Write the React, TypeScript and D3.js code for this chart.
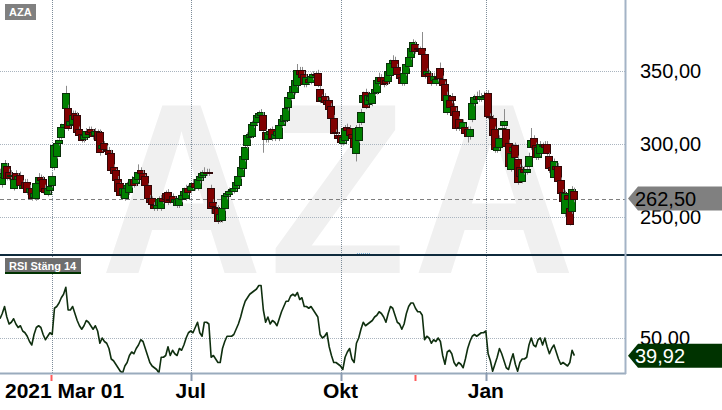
import { useEffect } from "react";
import * as d3 from "d3";

// daily candles, Mar 01 2021 .. Feb 28 2022 (trading-day index)
const opens = [
  276, 272, 277, 285, 281, 278, 270, 280, 276, 279, 270, 274, 274, 267, 270, 263, 263, 273, 277, 276,
  270, 266, 268, 272, 284, 292, 301, 305, 312, 325, 325, 313, 314, 321, 320, 310, 307, 303, 305, 309,
  310, 308, 306, 309, 308, 297, 301, 296, 296, 294, 284, 282, 276, 273, 266, 263, 270, 267, 272, 276,
  273, 276, 282, 280, 278, 272, 263, 263, 258, 256, 258, 256, 263, 266, 267, 262, 264, 260, 258, 258,
  262, 265, 263, 270, 268, 271, 273, 270, 275, 277, 279, 281, 281, 270, 260, 257, 256, 248, 248, 256,
  264, 266, 268, 268, 270, 272, 278, 284, 290, 299, 305, 306, 313, 315, 318, 320, 320, 308, 303, 307,
  310, 304, 306, 304, 313, 316, 317, 325, 332, 336, 336, 341, 351, 351, 348, 341, 345, 343, 346, 348,
  349, 338, 330, 333, 330, 330, 326, 318, 308, 306, 306, 301, 303, 312, 311, 307, 304, 294, 303, 315,
  329, 336, 328, 330, 328, 335, 336, 342, 346, 346, 344, 343, 348, 356, 358, 353, 348, 346, 342, 349,
  354, 360, 364, 369, 366, 365, 366, 362, 348, 349, 347, 344, 342, 346, 352, 345, 341, 322, 330, 333,
  326, 323, 317, 312, 311, 312, 310, 305, 317, 328, 331, 333, 331, 332, 333, 335, 319, 318, 310, 296,
  298, 310, 313, 310, 301, 283, 295, 299, 290, 284, 275, 283, 281, 285, 298, 304, 299, 291, 294, 298,
  300, 300, 292, 284, 277, 285, 285, 275, 267, 252, 265, 256, 254, 268,
];
const closes = [
  280, 277, 287, 277, 277, 279, 276, 276, 278, 272, 272, 270, 267, 270, 263, 266, 273, 277, 275, 268,
  267, 270, 271, 278, 299, 301, 303, 312, 314, 335, 311, 316, 320, 317, 308, 306, 303, 306, 309, 307,
  308, 305, 309, 303, 294, 299, 297, 295, 293, 282, 280, 275, 268, 265, 270, 270, 272, 273, 276, 272,
  277, 281, 280, 276, 272, 263, 260, 259, 256, 258, 262, 263, 261, 262, 260, 261, 260, 262, 262, 263,
  265, 268, 270, 267, 271, 273, 270, 276, 278, 280, 281, 280, 280, 256, 257, 253, 247, 252, 256, 265,
  266, 268, 269, 270, 274, 278, 284, 292, 298, 306, 307, 314, 315, 320, 321, 322, 310, 303, 308, 309,
  304, 307, 309, 313, 317, 320, 325, 332, 336, 340, 344, 351, 348, 346, 341, 346, 343, 347, 348, 347,
  341, 330, 332, 329, 327, 324, 318, 308, 307, 304, 301, 305, 311, 310, 306, 304, 298, 311, 312, 322,
  334, 326, 334, 333, 335, 338, 344, 346, 343, 341, 342, 350, 356, 358, 353, 348, 345, 342, 349, 355,
  360, 366, 370, 364, 365, 364, 362, 347, 350, 347, 342, 347, 345, 345, 345, 341, 330, 334, 325, 330,
  320, 311, 311, 311, 315, 308, 305, 310, 328, 332, 333, 331, 333, 333, 334, 319, 318, 306, 296, 298,
  304, 311, 316, 298, 285, 294, 298, 291, 274, 278, 283, 281, 283, 292, 303, 298, 291, 298, 300, 299,
  298, 294, 284, 282, 288, 283, 275, 266, 261, 266, 262, 245, 269, 262.5,
];
const highs = [
  283, 279, 289, 287, 283, 282, 277, 282, 280, 281, 275, 276, 276, 272, 271, 268, 274, 280, 279, 278,
  272, 272, 274, 280, 300, 303, 305, 314, 318, 340, 327, 318, 323, 323, 322, 312, 309, 308, 311, 312,
  312, 310, 311, 310, 310, 301, 302, 299, 298, 296, 286, 283, 278, 274, 272, 271, 274, 275, 278, 277,
  279, 286, 284, 282, 279, 273, 265, 264, 260, 260, 264, 265, 265, 268, 269, 264, 266, 264, 263, 265,
  267, 270, 272, 272, 273, 276, 275, 278, 281, 282, 284, 283, 283, 272, 262, 259, 258, 254, 258, 267,
  268, 270, 272, 273, 276, 280, 286, 294, 300, 308, 311, 316, 317, 322, 323, 324, 322, 310, 310, 311,
  312, 309, 311, 315, 319, 322, 327, 334, 338, 342, 346, 355, 353, 353, 350, 348, 347, 349, 350, 350,
  351, 340, 334, 335, 332, 332, 328, 320, 310, 308, 308, 307, 313, 314, 313, 309, 306, 313, 314, 324,
  336, 338, 336, 335, 337, 341, 346, 349, 348, 349, 346, 352, 358, 361, 360, 355, 350, 348, 351, 357,
  362, 368, 372, 371, 368, 367, 377, 364, 352, 351, 349, 349, 347, 348, 356, 347, 343, 336, 332, 335,
  328, 325, 319, 314, 317, 314, 312, 312, 330, 334, 336, 337, 335, 336, 336, 337, 321, 320, 312, 300,
  306, 313, 324, 312, 303, 296, 300, 301, 292, 286, 285, 285, 285, 294, 311, 306, 301, 300, 302, 301,
  302, 302, 294, 286, 290, 287, 287, 277, 269, 268, 267, 258, 271, 270,
];
const lows = [
  274, 270, 276, 275, 275, 276, 268, 274, 274, 270, 268, 268, 265, 265, 261, 262, 261, 272, 273, 266,
  265, 264, 266, 270, 282, 290, 299, 303, 310, 323, 309, 311, 312, 315, 306, 304, 301, 301, 303, 305,
  306, 303, 304, 301, 292, 295, 295, 293, 291, 280, 278, 273, 266, 263, 264, 261, 268, 265, 270, 270,
  271, 274, 278, 274, 270, 261, 258, 257, 254, 254, 256, 254, 259, 260, 258, 259, 258, 258, 256, 256,
  260, 263, 261, 265, 266, 269, 268, 268, 273, 275, 277, 278, 278, 252, 254, 251, 245, 246, 246, 254,
  262, 264, 266, 266, 268, 270, 276, 282, 288, 297, 303, 304, 311, 313, 316, 318, 294, 301, 301, 305,
  302, 302, 304, 302, 311, 314, 315, 323, 330, 334, 334, 339, 346, 344, 339, 339, 341, 341, 344, 345,
  339, 328, 328, 327, 325, 322, 316, 306, 305, 302, 299, 299, 301, 308, 304, 302, 296, 288, 301, 313,
  327, 324, 326, 328, 326, 333, 334, 340, 341, 339, 340, 341, 346, 354, 351, 346, 343, 340, 340, 347,
  352, 358, 362, 362, 363, 362, 360, 345, 346, 345, 340, 342, 340, 343, 343, 339, 328, 320, 323, 328,
  318, 309, 309, 309, 309, 306, 301, 303, 315, 326, 329, 329, 329, 330, 331, 317, 316, 304, 294, 294,
  296, 308, 311, 296, 283, 281, 293, 289, 272, 276, 273, 279, 279, 283, 296, 296, 289, 289, 292, 296,
  296, 292, 280, 280, 275, 281, 273, 264, 259, 250, 260, 244, 252, 260,
];
// RSI (close, 14)
const rsi = [
  61, 64, 68, 62, 58, 59, 61, 58, 56, 57, 54, 53, 51, 48, 46, 52, 56, 57, 56, 52,
  49, 51, 53, 52, 67, 68, 70, 73, 75, 79, 66, 66, 68, 64, 60, 57, 55, 57, 60, 59,
  57, 55, 57, 54, 47, 50, 48, 47, 44, 38, 37, 35, 33, 31, 30, 34, 36, 40, 42, 41,
  44, 46, 49, 48, 44, 40, 36, 34, 33, 32, 30, 39, 39, 40, 45, 40, 43, 41, 40, 44,
  43, 46, 50, 53, 54, 53, 56, 59, 53, 51, 59, 59, 58, 39, 40, 38, 36, 36, 44, 48,
  51, 51, 51, 52, 55, 58, 62, 67, 71, 73, 75, 76, 77, 78, 80, 80, 66, 59, 62, 58,
  60, 59, 57, 61, 65, 68, 71, 71, 74, 75, 74, 76, 72, 73, 68, 68, 67, 68, 66, 64,
  62, 52, 50, 51, 53, 45, 40, 36, 36, 35, 34, 32, 39, 42, 44, 38, 36, 47, 50, 55,
  59, 57, 58, 59, 60, 62, 63, 65, 64, 62, 59, 64, 68, 67, 63, 59, 58, 55, 58, 64,
  68, 70, 70, 67, 65, 65, 63, 49, 51, 50, 47, 49, 48, 50, 48, 40, 35, 42, 43, 41,
  36, 34, 36, 35, 33, 38, 44, 48, 51, 52, 51, 52, 53, 53, 54, 41, 37, 31, 35, 39,
  44, 41, 37, 33, 32, 37, 41, 35, 31, 36, 38, 38, 39, 46, 50, 46, 45, 49, 50, 46,
  50, 45, 41, 44, 46, 42, 38, 35, 36, 35, 34, 36, 43, 39.92,
];

const gridIdx = [23, 84, 150, 214];
const monthLabels = ["", "Jul", "Okt", "Jan"];
const firstLabel = "2021 Mar 01";
const markerIdx = [22.5, 183];
const priceTicks = [250, 300, 350];
const rsiTicks = [50];
const lastPrice = 262.5;
const lastRsi = 39.92;

const FONT = "'Liberation Sans', Arial, sans-serif";
const PLOT_R = 625;

const x = d3.scaleLinear().domain([0, 275.3]).range([0, PLOT_R]);
const yP = d3.scaleLinear().domain([223.7, 399]).range([255, 0]);
const yR = d3.scaleLinear().domain([30, 96.86]).range([373, 256]);

const fmt = (v: number) => v.toFixed(2).replace(".", ",");

function PriceTag({ y, label, fill, color }: { y: number; label: string; fill: string; color: string }) {
  const pts = `628,${y} 638,${y - 12} 722,${y - 12} 722,${y + 12} 638,${y + 12}`;
  return (
    <g>
      <polygon points={pts} fill={fill} />
      <text x={635} y={y + 7.5} fontSize={20} fill={color}>
        {label}
      </text>
    </g>
  );
}

export default function App() {
  useEffect(() => {
    document.body.style.margin = "0";
  }, []);

  const rsiLine = d3
    .line<number>()
    .x((_, i) => x(i))
    .y((d) => yR(d));

  const snap = (v: number) => Math.round(v) + 0.5;

  return (
    <svg
      width={722}
      height={410}
      style={{ position: "absolute", left: 0, top: 0, fontFamily: FONT }}
    >
      <defs>
        <clipPath id="clipPrice">
          <rect x={0} y={0} width={PLOT_R} height={254} />
        </clipPath>
        <clipPath id="clipRsi">
          <rect x={0} y={256} width={PLOT_R} height={117} />
        </clipPath>
      </defs>
      <rect width={722} height={410} fill="#fff" />

      {/* watermark */}
      <g fill="#f0f0f0" fontWeight="bold" fontSize={244} textAnchor="middle">
        <text transform="translate(181.5,273) scale(0.92,1)">A</text>
        <text transform="translate(337.5,273) scale(0.92,1)">Z</text>
        <text transform="translate(494,273) scale(0.92,1)">A</text>
      </g>

      {/* horizontal grid */}
      {priceTicks.map((t) => (
        <line key={t} x1={0} x2={PLOT_R} y1={snap(yP(t))} y2={snap(yP(t))} stroke="#a9b4bf" strokeDasharray="1 1" />
      ))}
      {rsiTicks.map((t) => (
        <line key={t} x1={0} x2={PLOT_R} y1={snap(yR(t))} y2={snap(yR(t))} stroke="#a9b4bf" strokeDasharray="1 1" />
      ))}
      {/* vertical grid */}
      {gridIdx.map((i) => (
        <line key={i} x1={snap(x(i))} x2={snap(x(i))} y1={0} y2={373} stroke="#7d8c99" strokeDasharray="1 1" />
      ))}

      {/* last price line */}
      <line x1={0} x2={PLOT_R} y1={snap(yP(lastPrice))} y2={snap(yP(lastPrice))} stroke="#808080" strokeDasharray="4 3" />

      {/* candles */}
      <g clipPath="url(#clipPrice)">
        {closes.map((c, i) => {
          const o = opens[i];
          const up = c >= o;
          const cx = x(i);
          const top = yP(Math.max(o, c));
          const bot = yP(Math.min(o, c));
          return (
            <g key={i}>
              <line x1={snap(cx)} x2={snap(cx)} y1={yP(highs[i])} y2={yP(lows[i])} stroke="#8c8c8c" />
              <rect
                x={Math.round(cx) - 4 + 0.5}
                y={Math.round(top) + 0.5}
                width={7}
                height={Math.max(1, Math.round(bot - top))}
                fill={up ? "#008000" : "#800000"}
                stroke={up ? "#0a300a" : "#300808"}
              />
            </g>
          );
        })}
      </g>

      {/* RSI */}
      <g clipPath="url(#clipRsi)">
        <path d={rsiLine(rsi) || ""} fill="none" stroke="#0f2f0f" strokeWidth={1.6} strokeLinejoin="round" />
      </g>

      {/* frame */}
      <line x1={0} x2={722} y1={255} y2={255} stroke="#0f2b3d" strokeWidth={2} />
      <line x1={357} x2={371} y1={253.5} y2={253.5} stroke="#7fb2d8" strokeDasharray="1 1" />
      <line x1={0} x2={626} y1={373.5} y2={373.5} stroke="#9aabbd" strokeWidth={2} />
      <line x1={625.5} x2={625.5} y1={0} y2={374} stroke="#a3b3c6" strokeWidth={2} />

      {/* axis ticks */}
      {gridIdx.slice(1).map((i) => (
        <line key={i} x1={snap(x(i))} x2={snap(x(i))} y1={373} y2={381} stroke="#8a9bb0" strokeWidth={2} />
      ))}
      {markerIdx.map((i) => (
        <line key={i} x1={snap(x(i))} x2={snap(x(i))} y1={375} y2={381} stroke="#ff5a5a" strokeWidth={2} />
      ))}

      {/* x labels */}
      <g fontWeight="bold" fontSize={21} fill="#000">
        <text x={5} y={398}>
          {firstLabel}
        </text>
        {gridIdx.map((i, k) =>
          monthLabels[k] ? (
            <text key={i} x={x(i)} y={398} textAnchor="middle">
              {monthLabels[k]}
            </text>
          ) : null
        )}
      </g>

      {/* right axis labels */}
      <g fontSize={20} fill="#000">
        {priceTicks.map((t) => (
          <text key={t} x={640} y={yP(t) + 7}>
            {fmt(t)}
          </text>
        ))}
        {rsiTicks.map((t) => (
          <text key={t} x={640} y={yR(t) + 7}>
            {fmt(t)}
          </text>
        ))}
      </g>
      <PriceTag y={yP(lastPrice)} label={fmt(lastPrice)} fill="#808080" color="#000" />
      <PriceTag y={yR(lastRsi)} label={fmt(lastRsi)} fill="#003300" color="#fff" />

      {/* panel titles */}
      <rect x={5} y={4} width={31} height={16} fill="#808080" />
      <text x={9} y={16} fontSize={11} fontWeight="bold" fill="#fff">
        AZA
      </text>
      <rect x={5} y={258} width={76} height={14} fill="#6e6e6e" />
      <rect x={5} y={272} width={76} height={2} fill="#003300" />
      <text x={9} y={269.5} fontSize={11} fontWeight="bold" fill="#fff">
        RSI Stäng 14
      </text>
    </svg>
  );
}
